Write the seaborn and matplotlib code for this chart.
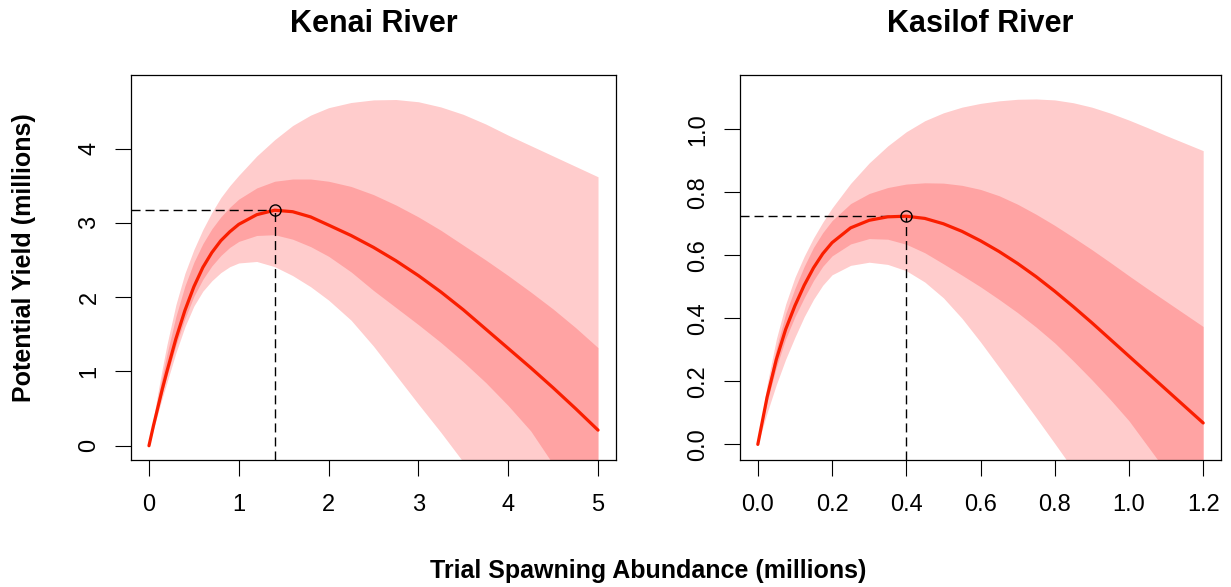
import numpy as np
import pandas as pd
import matplotlib
matplotlib.use("Agg")
import matplotlib.pyplot as plt
import seaborn as sns

# ---- Data (millions of fish)
# Kenai River
kenai_s = [0, 0.05, 0.1, 0.15, 0.2, 0.3, 0.4, 0.5, 0.6, 0.7, 0.8, 0.9, 1.0, 1.2,
           1.4, 1.6, 1.8, 2.0, 2.25, 2.5, 2.75, 3.0, 3.25, 3.5, 3.75, 4.0, 4.25,
           4.5, 4.75, 5.0]
kenai_med = [0, 0.27, 0.52, 0.77, 1.0, 1.44, 1.82, 2.14, 2.40, 2.60, 2.76, 2.88,
             2.98, 3.11, 3.17, 3.15, 3.08, 2.97, 2.83, 2.67, 2.49, 2.29, 2.07,
             1.83, 1.57, 1.31, 1.05, 0.78, 0.50, 0.21]
kenai_hi95 = [0, 0.37, 0.72, 1.05, 1.36, 1.90, 2.32, 2.64, 2.91, 3.14, 3.34, 3.50,
              3.64, 3.90, 4.12, 4.31, 4.45, 4.55, 4.62, 4.655, 4.66, 4.63, 4.56,
              4.46, 4.33, 4.18, 4.04, 3.90, 3.76, 3.62]
kenai_lo95 = [0, 0.22, 0.44, 0.65, 0.85, 1.25, 1.60, 1.88, 2.08, 2.22, 2.33, 2.41,
              2.46, 2.48, 2.41, 2.29, 2.14, 1.96, 1.69, 1.34, 0.95, 0.56, 0.18,
              -0.22, -0.62, -1.05, -1.50, -1.95, -2.40, -2.90]
kenai_hi50 = [0, 0.33, 0.64, 0.95, 1.23, 1.74, 2.15, 2.47, 2.72, 2.92, 3.08, 3.21,
              3.32, 3.47, 3.56, 3.59, 3.59, 3.56, 3.49, 3.38, 3.24, 3.08, 2.90,
              2.70, 2.50, 2.29, 2.07, 1.84, 1.59, 1.32]
kenai_lo50 = [0, 0.25, 0.49, 0.72, 0.94, 1.35, 1.71, 2.01, 2.24, 2.42, 2.56, 2.67,
              2.75, 2.83, 2.84, 2.78, 2.68, 2.55, 2.34, 2.09, 1.86, 1.63, 1.39,
              1.13, 0.85, 0.54, 0.20, -0.25, -0.65, -1.05]

# Kasilof River
kasilof_s = [0, 0.025, 0.05, 0.075, 0.1, 0.125, 0.15, 0.175, 0.2, 0.25, 0.3,
             0.35, 0.4, 0.45, 0.5, 0.55, 0.6, 0.65, 0.7, 0.75, 0.8, 0.85, 0.9,
             0.95, 1.0, 1.05, 1.1, 1.15, 1.2]
kasilof_med = [0, 0.15, 0.27, 0.365, 0.44, 0.505, 0.56, 0.605, 0.64, 0.687, 0.711,
               0.722, 0.724, 0.717, 0.700, 0.676, 0.646, 0.612, 0.574, 0.532,
               0.486, 0.437, 0.386, 0.333, 0.280, 0.227, 0.174, 0.121, 0.068]
kasilof_hi95 = [0, 0.19, 0.335, 0.445, 0.53, 0.597, 0.655, 0.705, 0.75, 0.828,
                0.893, 0.947, 0.992, 1.027, 1.052, 1.07, 1.082, 1.09, 1.095,
                1.096, 1.093, 1.084, 1.07, 1.051, 1.029, 1.005, 0.98, 0.956, 0.932]
kasilof_lo95 = [0, 0.10, 0.19, 0.27, 0.34, 0.405, 0.46, 0.505, 0.538, 0.568,
                0.578, 0.571, 0.551, 0.515, 0.465, 0.40, 0.325, 0.245, 0.165,
                0.085, 0.003, -0.08, -0.165, -0.25, -0.335, -0.42, -0.505,
                -0.59, -0.675]
kasilof_hi50 = [0, 0.17, 0.305, 0.415, 0.495, 0.565, 0.625, 0.672, 0.71, 0.764,
                0.796, 0.815, 0.826, 0.83, 0.829, 0.822, 0.809, 0.789, 0.762,
                0.73, 0.695, 0.657, 0.618, 0.577, 0.535, 0.494, 0.454, 0.414, 0.374]
kasilof_lo50 = [0, 0.135, 0.245, 0.335, 0.405, 0.465, 0.52, 0.565, 0.598, 0.636,
                0.653, 0.651, 0.635, 0.608, 0.573, 0.537, 0.50, 0.46, 0.418,
                0.372, 0.322, 0.265, 0.205, 0.142, 0.075, -0.005, -0.085,
                -0.165, -0.245]

# Spawning abundance at maximum yield and the yield there
peak_s = [1.40, 0.40]
peak_y = [3.17, 0.724]

titles = ["Kenai River", "Kasilof River"]
x_ticks = [[0, 1, 2, 3, 4, 5], [0.0, 0.2, 0.4, 0.6, 0.8, 1.0, 1.2]]
y_ticks = [[0, 1, 2, 3, 4], [0.0, 0.2, 0.4, 0.6, 0.8, 1.0]]
x_fmt = ["{:.0f}", "{:.1f}"]
y_fmt = ["{:.0f}", "{:.1f}"]
x_lims = [(-0.2, 5.2), (-0.048, 1.248)]
y_lims = [(-0.192, 4.99), (-0.0495, 1.172)]

# ---- Style
sns.set_theme(style="ticks", rc={
    "axes.edgecolor": "black",
    "axes.linewidth": 0.9,
    "axes.labelcolor": "black",
    "text.color": "black",
    "xtick.color": "black",
    "ytick.color": "black",
})
plt.rcParams["font.family"] = ["Liberation Sans", "DejaVu Sans"]

LINE_RED = "#fa1e00"
BAND_RED = "red"

fig = plt.figure(figsize=(12.31, 5.87), dpi=100)
W, H = 1231, 587
ax1 = fig.add_axes([131 / W, (H - 460) / H, 485 / W, 385 / H])
ax2 = fig.add_axes([740 / W, (H - 460) / H, 481 / W, 385 / H])

panels = [
    (kenai_s, kenai_med, kenai_lo95, kenai_hi95, kenai_lo50, kenai_hi50),
    (kasilof_s, kasilof_med, kasilof_lo95, kasilof_hi95, kasilof_lo50, kasilof_hi50),
]

for i, (ax, (s, med, lo95, hi95, lo50, hi50)) in enumerate(zip([ax1, ax2], panels)):
    df = pd.DataFrame({"s": s, "med": med, "lo95": lo95, "hi95": hi95,
                       "lo50": lo50, "hi50": hi50})

    # two stacked translucent bands -> light and darker pink
    ax.fill_between(df["s"], df["lo95"], df["hi95"], color=BAND_RED,
                    alpha=0.2, linewidth=0)
    ax.fill_between(df["s"], df["lo50"], df["hi50"], color=BAND_RED,
                    alpha=0.2, linewidth=0)

    ax.set_xlim(*x_lims[i])
    ax.set_ylim(*y_lims[i])

    # reference lines to the maximum
    dash = (0, (6.5, 3.6))
    ax.plot([x_lims[i][0], peak_s[i]], [peak_y[i], peak_y[i]],
            color="black", lw=1, linestyle=dash)
    ax.plot([peak_s[i], peak_s[i]], [y_lims[i][0], peak_y[i]],
            color="black", lw=1, linestyle=dash)

    sns.lineplot(data=df, x="s", y="med", ax=ax, color=LINE_RED,
                 linewidth=2.3, estimator=None)
    ax.plot([peak_s[i]], [peak_y[i]], marker="o", markersize=8,
            markerfacecolor="none", markeredgecolor="black", markeredgewidth=1)

    ax.set_xticks(x_ticks[i])
    ax.set_xticklabels([x_fmt[i].format(v) for v in x_ticks[i]])
    ax.set_yticks(y_ticks[i])
    ax.set_yticklabels([y_fmt[i].format(v) for v in y_ticks[i]])
    ax.tick_params(axis="both", direction="out", length=11.5, width=0.8,
                   labelsize=17)
    ax.tick_params(axis="x", pad=13)
    ax.tick_params(axis="y", pad=10.5, labelrotation=90)
    for lab in ax.get_yticklabels():
        lab.set_va("center")

    ax.set_xlabel("")
    ax.set_ylabel("")
    ax.set_title(titles[i], fontsize=22, fontweight="bold", pad=31,
                 color="black")
    for sp in ax.spines.values():
        sp.set_visible(True)
        sp.set_color("black")
        sp.set_linewidth(0.9)

fig.text(24 / W, (H - 257.5) / H, "Potential Yield (millions)", rotation=90,
         ha="center", va="center", fontsize=18, fontweight="bold", color="black")
fig.text(648 / W, (H - 578) / H, "Trial Spawning Abundance (millions)",
         ha="center", va="baseline", fontsize=18, fontweight="bold", color="black")

fig.savefig("out.png", dpi=100, facecolor="white")
